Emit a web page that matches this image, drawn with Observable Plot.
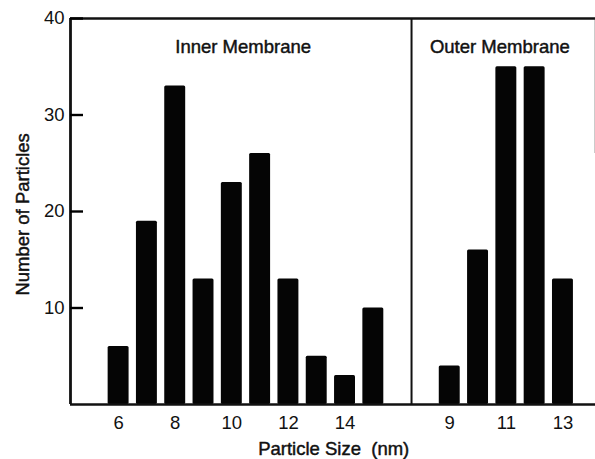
<!DOCTYPE html>
<html><head><meta charset="utf-8">
<script src="https://cdn.jsdelivr.net/npm/d3@7"></script>
<script src="https://cdn.jsdelivr.net/npm/@observablehq/plot@0.6"></script>
<style>body{margin:0;background:#fff} svg{display:block}</style>
</head><body><div id="chart"></div>
<script>
// ---- data ----
const innerSizes = [6, 7, 8, 9, 10, 11, 12, 13, 14, 15];
const innerCounts = [6, 19, 33, 13, 23, 26, 13, 5, 3, 10];
const outerSizes = [9, 10, 11, 12, 13];
const outerCounts = [4, 16, 35, 35, 13];
const innerTickLabels = [6, 8, 10, 12, 14];
const outerTickLabels = [9, 11, 13];
const yTicks = [10, 20, 30, 40];
const panelTitles = ["Inner Membrane", "Outer Membrane"];
const xLabel = "Particle Size\u00a0 (nm)";
const yLabel = "Number of Particles";

// ---- layout constants ----
const outerOffset = 8.7;      // shift of the outer-membrane panel on the shared x axis
const xMin = 4.3, xMax = 22.85, divider = 16.35;
const halfBar = 0.37;
const tickInset = 512;        // leaves ~12px inward y ticks
const titleX = [10.4, 19.47];
const xLabelX = 13.6;
const yLabelX = 2.64, yLabelY = 19.7;

const bars = innerSizes.map((s, i) => ({size: s, count: innerCounts[i], pos: s}))
  .concat(outerSizes.map((s, i) => ({size: s, count: outerCounts[i], pos: s + outerOffset})));
const tickPositions = innerTickLabels.concat(outerTickLabels.map(s => s + outerOffset));
const tickNames = innerTickLabels.concat(outerTickLabels).map(String);
const tickText = new Map(tickPositions.map((p, i) => [p, tickNames[i]]));

const ink = "#111";
const textStyle = {fill: ink, stroke: ink, strokeWidth: 0.45};

const chart = Plot.plot({
  width: 595, height: 459,
  marginTop: 18, marginBottom: 55, marginLeft: 70, marginRight: 0,
  style: {fontFamily: "'Liberation Sans', Arial, sans-serif", fontSize: "18.5px", color: ink, background: "#fff", overflow: "visible"},
  x: {domain: [xMin, xMax], axis: null},
  y: {domain: [0, 40], axis: null},
  marks: [
    Plot.rectY(bars, {x1: d => d.pos - halfBar, x2: d => d.pos + halfBar, y: "count", fill: "#050505", rx: 1.5}),
    Plot.ruleY([0, 40], {stroke: ink, strokeWidth: 2.5}),
    Plot.ruleX([xMin], {stroke: ink, strokeWidth: 2.8}),
    Plot.ruleX([divider], {stroke: ink, strokeWidth: 2}),
    Plot.ruleX([xMax], {y1: 26, y2: 40, stroke: "#333", strokeWidth: 1.5}),
    Plot.tickY(yTicks, {y: d => d, stroke: "#000", strokeWidth: 2.4, insetRight: tickInset}),
    Plot.axisX(tickPositions, {tickSize: 0, tickPadding: 11, tickFormat: p => tickText.get(p), label: null, ...textStyle}),
    Plot.axisY(yTicks, {tickSize: 0, tickPadding: 6, label: null, ...textStyle}),
    Plot.text(panelTitles, {x: (d, i) => titleX[i], frameAnchor: "top", lineAnchor: "middle", dy: 28.5, text: d => d, ...textStyle}),
    Plot.text([yLabel], {x: yLabelX, y: yLabelY, rotate: -90, textAnchor: "middle", lineAnchor: "middle", text: d => d, ...textStyle}),
    Plot.text([xLabel], {x: xLabelX, frameAnchor: "bottom", lineAnchor: "middle", dy: 45, text: d => d, ...textStyle})
  ]
});
document.getElementById("chart").append(chart);
</script>
</body></html>
